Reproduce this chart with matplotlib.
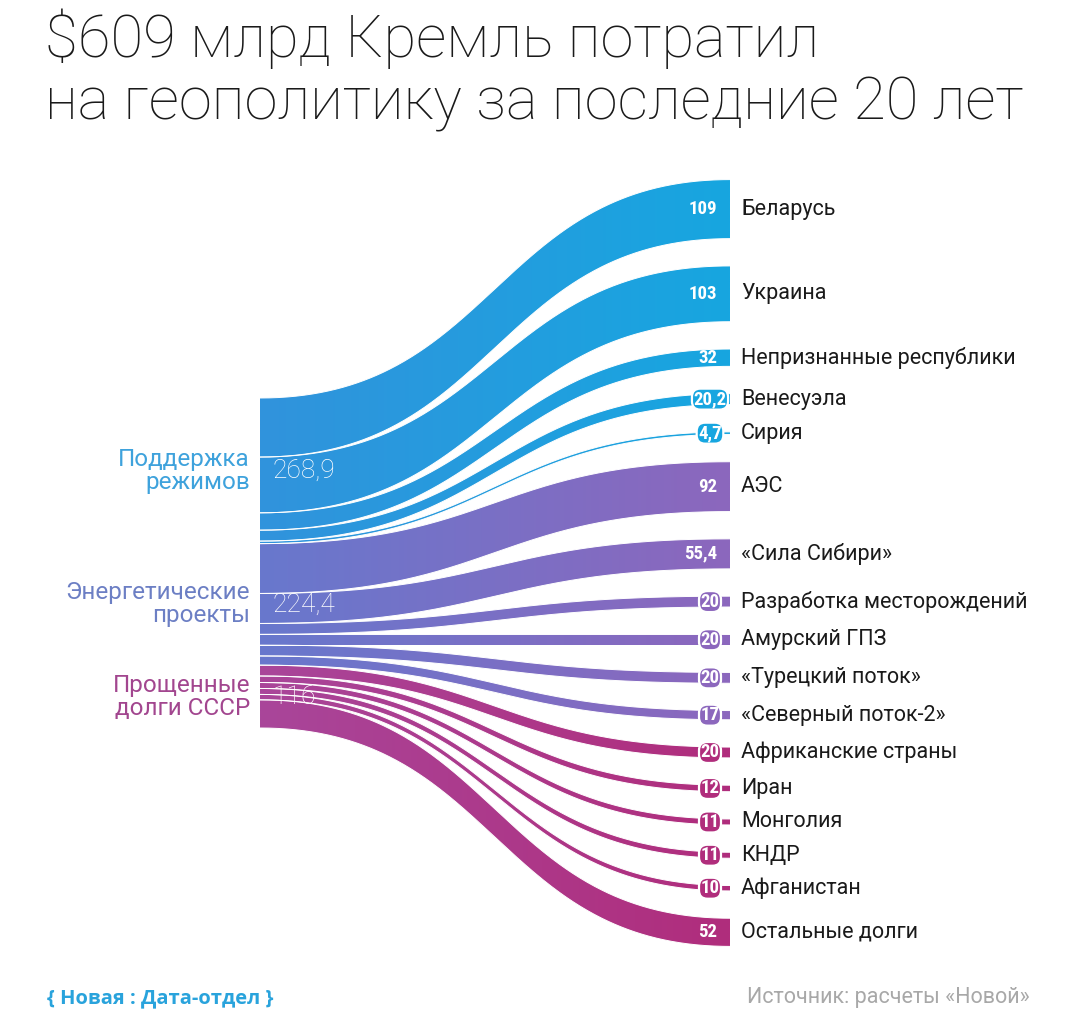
import numpy as np
import matplotlib.pyplot as plt
from matplotlib.path import Path
from matplotlib.patches import PathPatch
from matplotlib.colors import LinearSegmentedColormap

plt.rcParams['font.family'] = ['Roboto', 'DejaVu Sans']

# данные (млрд долларов)
groups = ['Поддержка\nрежимов', 'Энергетические\nпроекты', 'Прощенные\nдолги СССР']
targets = ['Беларусь', 'Украина', 'Непризнанные республики', 'Венесуэла', 'Сирия',
           'АЭС', '«Сила Сибири»', 'Разработка месторождений', 'Амурский ГПЗ',
           '«Турецкий поток»', '«Северный поток-2»',
           'Африканские страны', 'Иран', 'Монголия', 'КНДР', 'Афганистан', 'Остальные долги']
values = [109, 103, 32, 20.2, 4.7,
          92, 55.4, 20, 20, 20, 17,
          20, 12, 11, 11, 10, 52]
target_group = [0, 0, 0, 0, 0,
                1, 1, 1, 1, 1, 1,
                2, 2, 2, 2, 2, 2]

# цвета групп: слева и справа
left_colors = ['#3193dc', '#6878cd', '#a9469a']
right_colors = ['#17a6e0', '#8c67bd', '#b02d7c']
label_colors = ['#3ea2dc', '#6c7fc4', '#a2468f']

num_font = ['Roboto Condensed', 'Roboto', 'DejaVu Sans']


def fmt(v):
    s = ('%.1f' % v).rstrip('0').rstrip('.')
    return s.replace('.', ',')


def bez(p0, p1, t, k=0.5):
    # кубическая кривая Безье между p0 и p1
    c0 = p0 + k * (p1 - p0)
    c1 = p1 - k * (p1 - p0)
    return (1 - t) ** 3 * p0 + 3 * (1 - t) ** 2 * t * c0 + 3 * (1 - t) * t ** 2 * c1 + t ** 3 * p1


W, H = 1081, 1017
fig = plt.figure(figsize=(W / 100, H / 100), dpi=100)
ax = fig.add_axes([0, 0, 1, 1])
ax.set_xlim(0, W)
ax.set_ylim(H, 0)
ax.axis('off')

SCALE = 0.5416   # пикселей на млрд
GAP = 27.3
X0, X1 = 260, 730
CY = 563

vals = np.array(values)
heights = vals * SCALE
# левая сторона: без зазоров
left_top = CY - heights.sum() / 2
left_y0 = left_top + np.concatenate([[0], np.cumsum(heights)[:-1]])
# правая сторона: с равными зазорами
right_total = heights.sum() + GAP * (len(values) - 1)
right_top = CY - right_total / 2
right_y0 = right_top + np.concatenate([[0], np.cumsum(heights + GAP)[:-1]])

t = np.linspace(0, 1, 300)
xs = bez(X0, X1, t, k=0.5)
ty = bez(0.0, 1.0, t, k=0.0)   # горизонтальные касательные на концах

for i, v in enumerate(values):
    g = target_group[i]
    h = heights[i]
    top = left_y0[i] + (right_y0[i] - left_y0[i]) * ty
    bot = top + h
    verts = np.concatenate([np.column_stack([xs, top]), np.column_stack([xs[::-1], bot[::-1]])])
    path = Path(np.vstack([verts, verts[:1]]))
    patch = PathPatch(path, facecolor='none', edgecolor='none')
    ax.add_patch(patch)
    cmap = LinearSegmentedColormap.from_list('f%d' % i, [left_colors[g], right_colors[g]])
    grad = np.linspace(0, 1, 256).reshape(1, -1)
    im = ax.imshow(grad, cmap=cmap, aspect='auto', interpolation='bilinear',
                   extent=(X0, X1, bot.max() + 1, top.min() - 1), zorder=2)
    im.set_clip_path(patch)
    ax.plot(xs, top, color='white', lw=0.7, zorder=3)
    ax.plot(xs, bot, color='white', lw=0.7, zorder=3)

    yc = right_y0[i] + h / 2
    ax.text(741, yc, targets[i], fontsize=15.5, color='#1a1a1a', va='center', ha='left', zorder=5)
    if h >= 15:
        ax.text(717, yc, fmt(v), fontsize=13.5, color='white', fontweight='bold',
                va='center', ha='right', zorder=5, family=num_font)
    else:
        ax.text(710, yc, fmt(v), fontsize=13.5, color='white', fontweight='bold',
                va='center', ha='center', zorder=5, family=num_font,
                bbox=dict(boxstyle='round,pad=0.08,rounding_size=0.45',
                          fc=right_colors[g], ec='white', lw=1.6))

# подписи групп
gsum = [vals[np.array(target_group) == g].sum() for g in range(3)]
gtop = left_top
for g in range(3):
    gh = gsum[g] * SCALE
    gc = gtop + gh / 2
    ax.text(250, gc, groups[g], fontsize=17.5, color=label_colors[g], ha='right', va='center',
            linespacing=1.0, zorder=5)
    ax.text(273, gc, fmt(gsum[g]), fontsize=19, color='white', ha='left', va='center',
            fontweight='light', zorder=5)
    gtop += gh

# заголовок
fig.text(45 / W, 1 - 57 / H, '$609 млрд Кремль потратил', fontsize=43, fontweight='light',
         color='#1a1a1a', ha='left', va='baseline')
fig.text(45 / W, 1 - 119 / H, 'на геополитику за последние 20 лет', fontsize=43,
         fontweight='light', color='#1a1a1a', ha='left', va='baseline')

# подвал
fig.text(47 / W, 1 - 998 / H, '{ Новая : Дата-отдел }', fontsize=14.5, fontweight='bold',
         color='#29a3dc', ha='left', va='center', family=['Open Sans', 'DejaVu Sans'])
fig.text(1030 / W, 1 - 998 / H, 'Источник: расчеты «Новой»', fontsize=15.5, color='#a8a8a8',
         ha='right', va='center')

fig.savefig('out.png', dpi=100)
